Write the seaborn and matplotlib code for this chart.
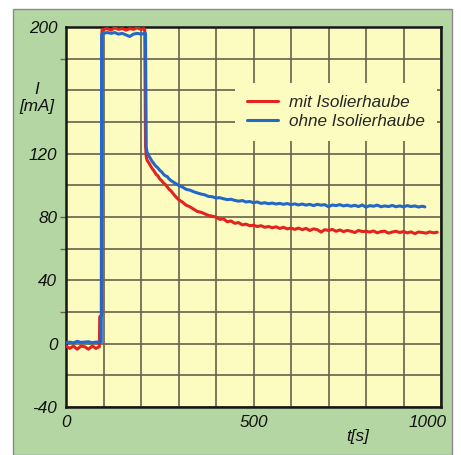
import numpy as np
import pandas as pd
import matplotlib
matplotlib.use("Agg")
import matplotlib.pyplot as plt
import matplotlib.patches as mpatches
import matplotlib.transforms as mtransforms
import seaborn as sns

# --- measured current over time ---------------------------------------------
label_mit = "mit Isolierhaube"
label_ohne = "ohne Isolierhaube"

t_mit = [0, 10, 20, 30, 40, 50, 60, 70, 80, 88, 89, 90, 95, 96,
         100, 110, 120, 130, 140, 150, 160, 170, 180, 190, 200, 208, 210,
         212, 214, 216, 220, 225, 230, 235, 240, 245, 250, 255, 260, 265,
         270, 275, 280, 290, 300, 310, 320, 330, 340, 350, 360, 370, 380,
         390, 400, 410, 420, 430, 440, 450, 460, 470, 480, 490, 500, 510,
         520, 530, 540, 550, 560, 570, 580, 590, 600, 610, 620, 630, 640,
         650, 660, 670, 680, 690, 700, 710, 720, 730, 740, 750, 760, 770,
         780, 790, 800, 810, 820, 830, 840, 850, 860, 870, 880, 890, 900,
         910, 920, 930, 940, 950, 960, 970, 980, 990]
i_mit = [-1.5, -3, -1.5, -3.5, -1.5, -2, -3.5, -1.5, -3, -2, -2, 17, 18, 198,
         198.5, 199, 198, 199.5, 198.5, 199, 198, 199, 198.5, 199.5, 198.5, 199, 198,
         125, 118, 116, 114.5, 112.5, 110.5, 109, 107, 106, 104, 103, 101.5, 100.5,
         99, 97.5, 96.5, 93.5, 91, 89.5, 87.5, 86.5, 85, 83.5, 83, 82, 81,
         80.5, 80, 78.5, 78.8, 77, 77.5, 76, 76.5, 75, 75.5, 74.5, 74.8, 74,
         74.5, 73.5, 74, 73.2, 73.8, 72.8, 73.5, 72.5, 73, 72.2, 73, 72, 72.8,
         71.5, 72.5, 72, 70.5, 72, 71.5, 72.2, 71, 71.8, 70.8, 71.5, 71, 70.2,
         71.5, 70.8, 71, 70.5, 71.2, 70, 70.8, 71, 69.8, 70.5, 71, 70.2, 70.8,
         70, 70.6, 69.5, 70.5, 70.2, 69.8, 70.6, 70, 70.4]

t_ohne = [0, 10, 20, 30, 40, 50, 60, 70, 80, 90, 94, 95,
          100, 110, 120, 130, 140, 150, 160, 170, 180, 190, 200, 210, 212,
          214, 216, 220, 225, 230, 235, 240, 245, 250, 255, 260, 265, 270,
          275, 280, 290, 300, 310, 320, 330, 340, 350, 360, 370, 380, 390,
          400, 410, 420, 430, 440, 450, 460, 470, 480, 490, 500, 510, 520,
          530, 540, 550, 560, 570, 580, 590, 600, 610, 620, 630, 640, 650,
          660, 670, 680, 690, 700, 710, 720, 730, 740, 750, 760, 770, 780,
          790, 800, 810, 820, 830, 840, 850, 860, 870, 880, 890, 900, 910,
          920, 930, 940, 950, 957]
i_ohne = [0.5, 1, 0.5, 1.5, 0.8, 1, 1.2, 0.6, 1, 1, 1, 195.5,
          196, 196.5, 196, 196.5, 195.5, 196, 195, 194, 195.5, 196, 195.5, 196, 196,
          124, 121, 119, 117, 115, 113.5, 112, 111, 109.5, 108.5, 107, 106, 105.5,
          104, 103, 101.5, 100, 99, 97.5, 97, 96, 95.2, 94.5, 94, 93, 92.8,
          92, 92.2, 91.5, 91, 91.2, 90.5, 90, 90.4, 89.5, 89.8, 89, 89.5, 88.6,
          89, 88.4, 88.8, 88.2, 88.6, 88, 88.5, 87.8, 88.3, 87.6, 88.2, 87.5, 88,
          87.2, 88, 87.5, 87.8, 86.5, 87.6, 87.2, 87.8, 87, 87.5, 86.8, 87.4, 86.6,
          87.6, 86.2, 87.2, 86.8, 87.5, 86.5, 87, 86.6, 87.3, 86.5, 87, 86.4, 87.2,
          86.6, 87, 86.3, 86.8, 86.4]

x_ticks = [0, 500, 1000]
y_tick_labels = [200, 120, 80, 40, 0, -40]

# --- styling ----------------------------------------------------------------
red = "#e3231e"
blue = "#2367c9"
paper = "#fdfcc0"
panel = "#b3d6a2"
grid_col = "#67624c"

sns.set_theme(style="white")
plt.rcParams["font.family"] = ["Liberation Sans", "DejaVu Sans"]
plt.rcParams["font.style"] = "italic"
fs = 12.3

W, H = 461, 455
fig = plt.figure(figsize=(W / 100, H / 100), dpi=100)
fig.patch.set_facecolor("white")

# green panel behind the chart
fig.patches.append(mpatches.Rectangle(
    (13 / W, 0), (452 - 13) / W, (455 - 9) / H, transform=fig.transFigure,
    facecolor=panel, edgecolor="#8a8a8a", linewidth=1.0, zorder=-5))

ax = fig.add_axes([66 / W, (H - 407) / H, 375 / W, 380 / H])
ax.set_zorder(1)
ax.set_facecolor(paper)

df = pd.concat([
    pd.DataFrame({"t": t_mit, "I": i_mit, "Serie": label_mit}),
    pd.DataFrame({"t": t_ohne, "I": i_ohne, "Serie": label_ohne}),
], ignore_index=True)

sns.lineplot(data=df, x="t", y="I", hue="Serie",
             palette={label_mit: red, label_ohne: blue},
             hue_order=[label_mit, label_ohne],
             estimator=None, sort=False, linewidth=2.2, ax=ax, legend=False,
             zorder=3)

ax.set_xlim(0, 1000)
ax.set_ylim(-40, 200)

# grid: every 100 s and every 20 mA
ax.set_xticks(np.arange(0, 1001, 100))
ax.set_xticklabels([str(v) if v in x_ticks else "" for v in range(0, 1001, 100)],
                   fontsize=fs, style="italic")
yt = list(range(-40, 201, 20))
ax.set_yticks(yt)
ax.set_yticklabels([str(v) if v in y_tick_labels else "" for v in yt],
                   fontsize=fs, style="italic")
ax.grid(True, color=grid_col, linewidth=1.2, zorder=1)
ax.set_axisbelow(True)

ax.tick_params(axis="x", length=0, pad=6.0, colors="#111111")
ax.tick_params(axis="y", length=4.3, width=1.0, pad=2.0, color=grid_col,
               labelcolor="#111111", left=True)
for v, tk in zip(yt, ax.yaxis.get_major_ticks()):
    if v not in (180, 80, 60, 20):
        tk.tick1line.set_visible(False)

# "1000" label sits a bit left of its grid line
for lbl in ax.get_xticklabels():
    if lbl.get_text() == "1000":
        lbl.set_transform(lbl.get_transform() +
                          mtransforms.ScaledTranslation(-13 / 100, 0, fig.dpi_scale_trans))

for s in ax.spines.values():
    s.set_color("#161616")
    s.set_linewidth(1.8)

ax.set_xlabel("t[s]", fontsize=fs, style="italic", color="#111111")
ax.xaxis.set_label_coords((358 - 66) / 375, (407 - 436) / 380)
ax.xaxis.label.set_va("center")
ax.set_ylabel("I\n[mA]", fontsize=fs, style="italic", rotation=0,
              linespacing=1.25, color="#111111", ha="center", va="center")
ax.yaxis.set_label_coords((37 - 66) / 375, (407 - 98) / 380)

handles = [plt.Line2D([], [], color=red, linewidth=2.2),
           plt.Line2D([], [], color=blue, linewidth=2.2)]
leg = ax.legend(handles, [label_mit, label_ohne], loc="upper left",
                bbox_to_anchor=((235 - 66) / 375, (407 - 83) / 380),
                borderaxespad=0, frameon=True, fancybox=False,
                facecolor=paper, edgecolor="none", framealpha=1,
                prop={"size": fs, "style": "italic"},
                handlelength=1.8, handletextpad=0.65, labelspacing=0.25,
                borderpad=0.7)
leg.set_zorder(2)

fig.savefig("out.png", dpi=100, facecolor="white")
